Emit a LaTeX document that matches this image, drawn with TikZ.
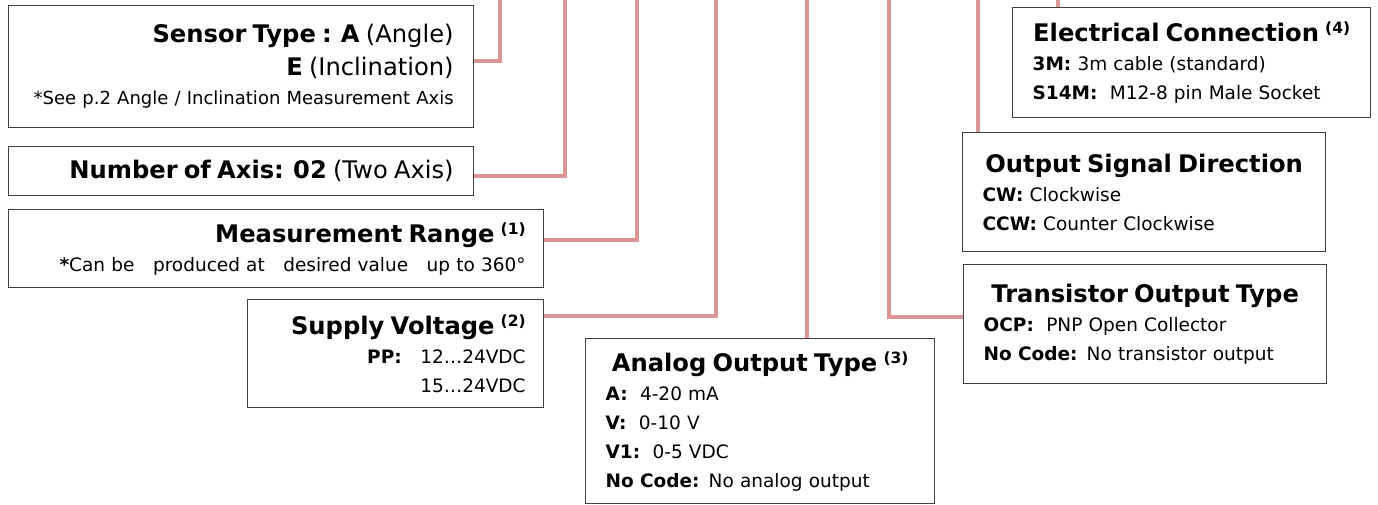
\documentclass[tikz,border=0pt]{standalone}
\usepackage{fontspec}
\setmainfont{DejaVu Sans}
\usepackage{tikz}
\usetikzlibrary{positioning}
\definecolor{leadpink}{RGB}{217,150,148}
\definecolor{boxline}{RGB}{64,64,64}
\newcommand{\hd}[1]{{\fontsize{24.2}{29}\selectfont\bfseries #1}}
\newcommand{\hr}[1]{{\fontsize{24.2}{29}\selectfont #1}}
\newcommand{\nt}[1]{\raisebox{8pt}{\fontsize{15.5}{15}\selectfont\bfseries(#1)}}
\newcommand{\ctr}[1]{\hbox to\hsize{\hss#1\hss}}

\begin{document}
\begin{tikzpicture}[x=1pt,y=-1pt,inner sep=0pt,
  font=\fontsize{18.5}{29}\selectfont,
  box/.style={draw=boxline,line width=1.3pt,anchor=north west},
  rbox/.style={box,align=right},
  lbox/.style={box,align=left},
  lead/.style={draw=leadpink,line width=4pt}]
\useasboundingbox (0,0) rectangle (1378,504);

% left column, text set to the right
\node[rbox,minimum width=465,minimum height=122,text width=425] (sensor) at (8,5)
  {\hd{Sensor Type : A} \hr{(Angle)}\\[4pt] \hd{E} \hr{(Inclination)}\\
   \mbox{\fontsize{18}{29}\selectfont *See p.2 Angle / Inclination Measurement Axis}};
\node[rbox,minimum width=465,minimum height=49,text width=425] (axis) at (8,146)
  {\hd{Number of Axis: 02} \hr{(Two Axis)}};
\node[rbox,minimum width=535,minimum height=78,text width=499] (range) at (8,209)
  {\hd{Measurement Range \nt{1}}\\
   \textbf{*}Can be\quad produced at\quad desired value\quad up to 360°};
\node[rbox,minimum width=296,minimum height=108,text width=260] (supply) at (247,299)
  {\hd{Supply Voltage \nt{2}}\\ \textbf{PP:}\quad 12…24VDC\\ 15…24VDC};

% middle and right column
\node[lbox,minimum width=349,minimum height=165,text width=309] (analog) at (585,338)
  {\ctr{\hd{Analog Output Type \nt{3}}}\\
   \textbf{A:}\ \ 4-20 mA\\ \textbf{V:}\ \ 0-10 V\\ \textbf{V1:}\ \ 0-5 VDC\\
   \textbf{No Code:} No analog output};
\node[lbox,minimum width=358,minimum height=110,text width=318] (connection) at (1012,7)
  {\ctr{\hd{Electrical Connection \nt{4}}}\\
   \textbf{3M:} 3m cable (standard)\\ \textbf{S14M:}\ \ M12-8 pin Male Socket};
\node[lbox,minimum width=363,minimum height=119,text width=323] (direction) at (962,132)
  {\ctr{\hd{Output Signal Direction}}\\
   \textbf{CW:} Clockwise\\ \textbf{CCW:} Counter Clockwise};
\node[lbox,minimum width=363,minimum height=119,text width=323] (transistor) at (963,264)
  {\ctr{\hd{Transistor Output Type}}\\
   \textbf{OCP:}\ \ PNP Open Collector\\ \textbf{No Code:} No transistor output};

% leader lines up to the code
\coordinate (top) at (0,-4);
\coordinate (k1) at (500,61);
\coordinate (k2) at (565,176);
\coordinate (k3) at (637,240);
\coordinate (k4) at (716,316);
\coordinate (k5) at (807,0);
\coordinate (k6) at (889,317);
\coordinate (k7) at (978,0);
\coordinate (k8) at (1058,0);

\draw[lead] (sensor.east |- k1) -- (k1) -- (k1 |- top);
\draw[lead] (axis.east |- k2) -- (k2) -- (k2 |- top);
\draw[lead] (range.east |- k3) -- (k3) -- (k3 |- top);
\draw[lead] (supply.east |- k4) -- (k4) -- (k4 |- top);
\draw[lead] (k5 |- analog.north) -- (k5 |- top);
\draw[lead] (transistor.west |- k6) -- (k6) -- (k6 |- top);
\draw[lead] (k7 |- direction.north) -- (k7 |- top);
\draw[lead] (k8 |- connection.north) -- (k8 |- top);

\end{tikzpicture}
\end{document}
